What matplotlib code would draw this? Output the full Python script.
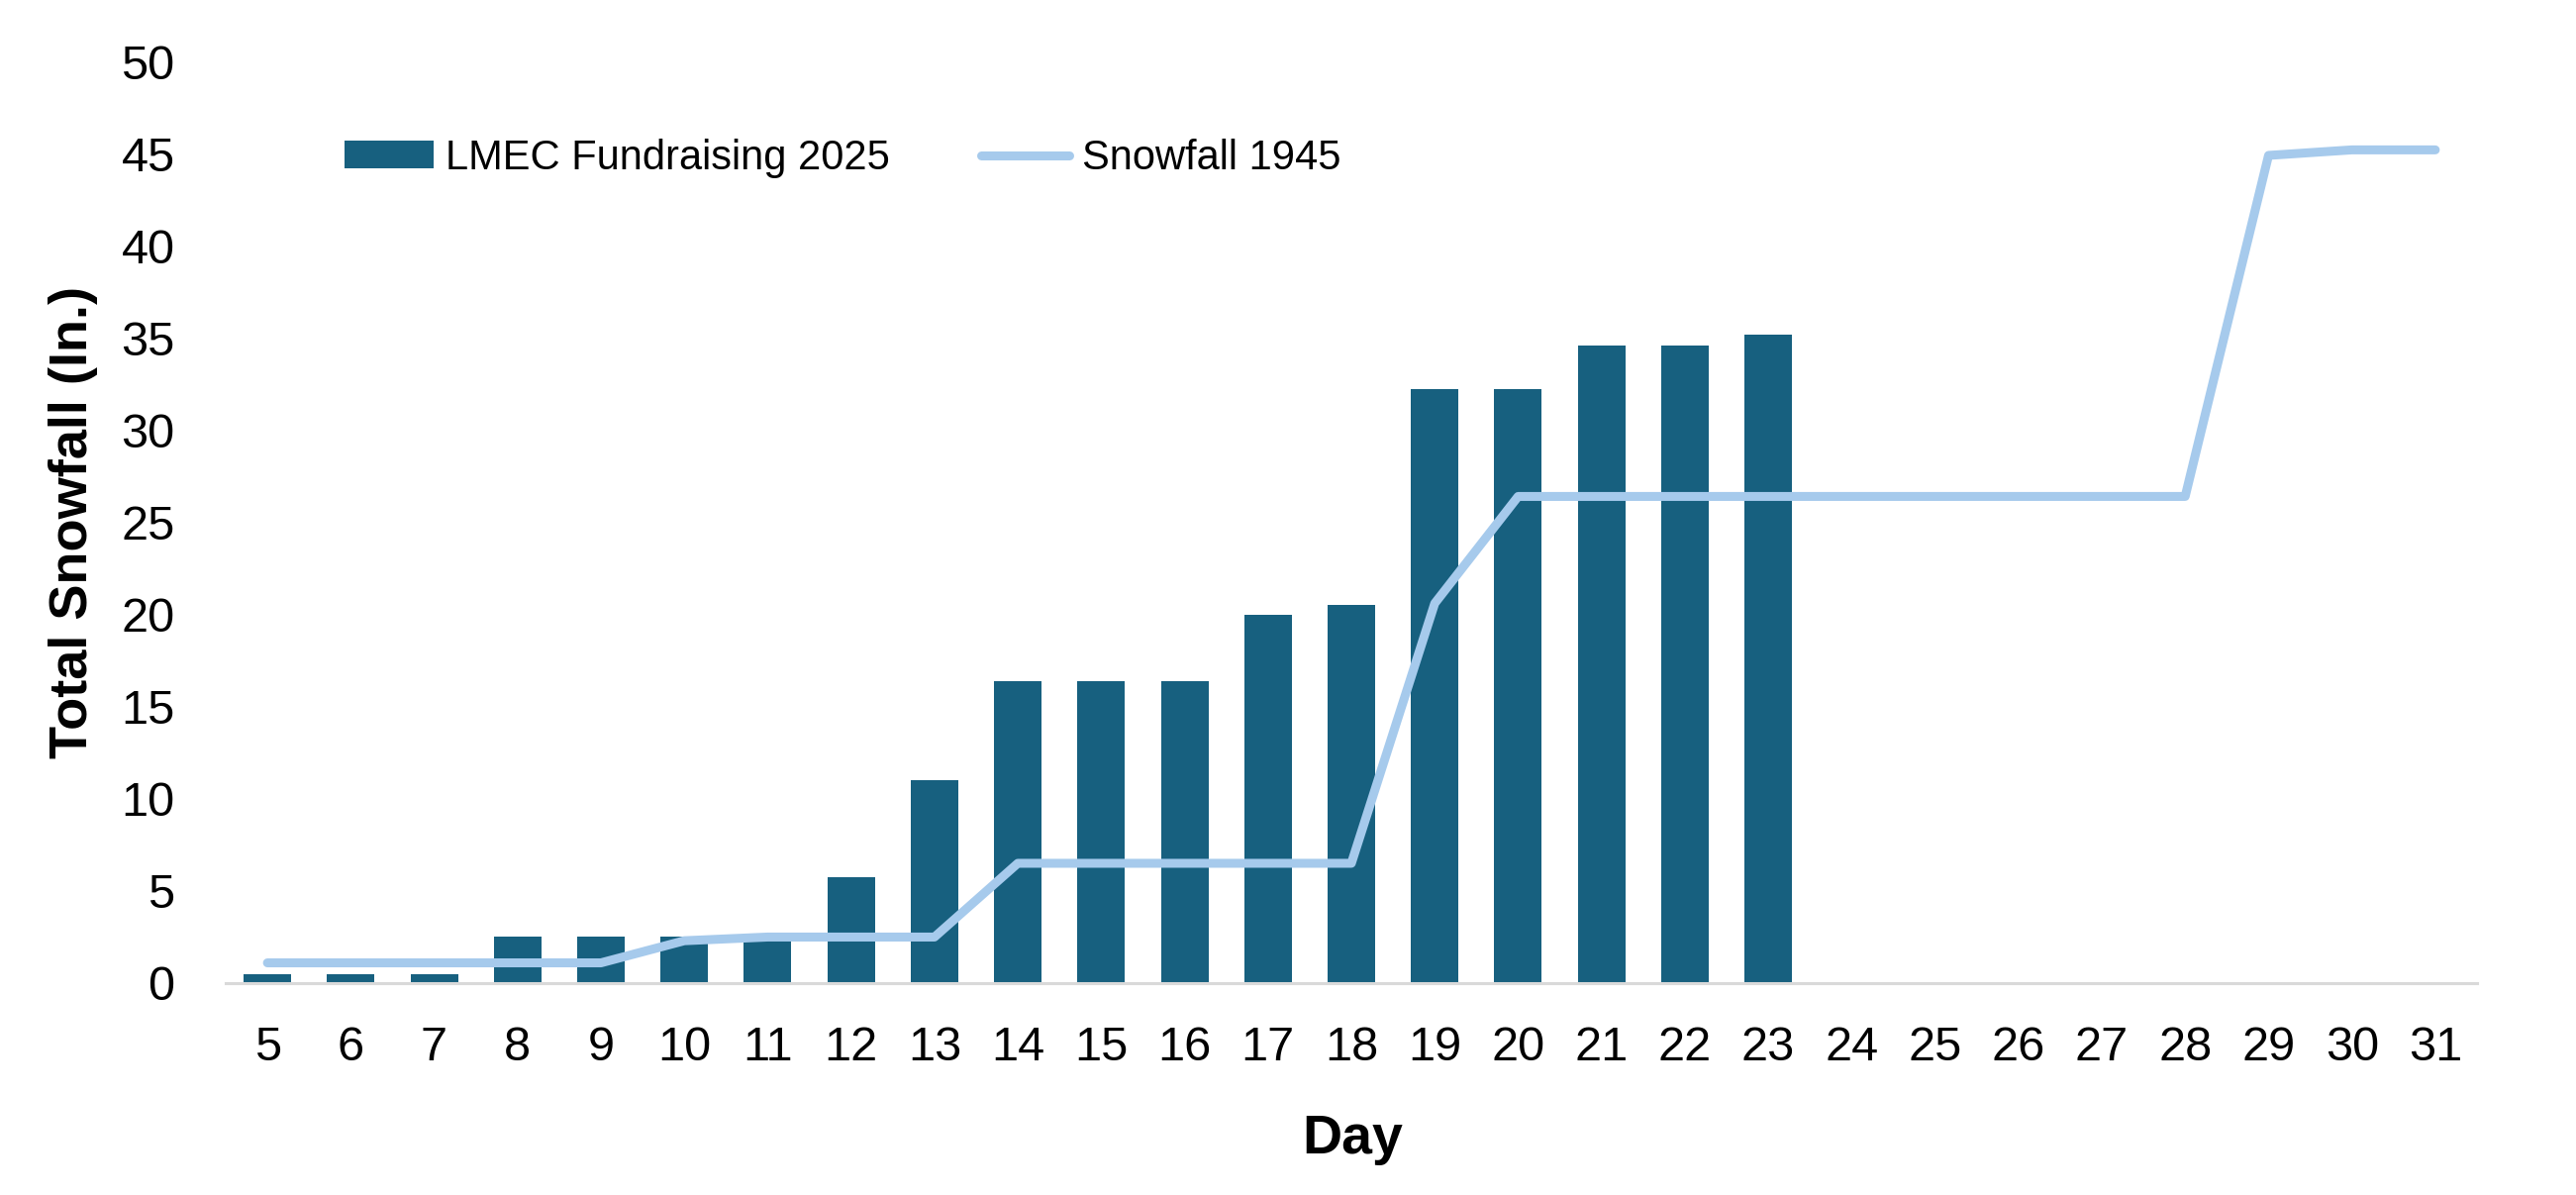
import numpy as np
import matplotlib
matplotlib.use("Agg")
import matplotlib.pyplot as plt

plt.rcParams['font.family'] = ['Liberation Sans', 'DejaVu Sans']

# data
days = list(range(5, 32))
fundraising = [0.5, 0.5, 0.5, 2.5, 2.5, 2.5, 2.5, 5.75, 11.0, 16.4, 16.4, 16.4,
               20.0, 20.5, 32.2, 32.2, 34.6, 34.6, 35.2]   # days 5-23
snow_1945 = [1.1, 1.1, 1.1, 1.1, 1.1,                      # 5-9
             2.3, 2.5, 2.5, 2.5,                           # 10-13
             6.5, 6.5, 6.5, 6.5, 6.5,                      # 14-18
             20.6,                                         # 19
             26.4, 26.4, 26.4, 26.4, 26.4, 26.4, 26.4, 26.4, 26.4,  # 20-28
             44.9, 45.2, 45.2]                             # 29-31

bar_color = '#17607F'
line_color = '#A6CAEC'

fig = plt.figure(figsize=(26.02, 12.07), dpi=100)
ax = fig.add_axes([228 / 2602, 1 - 993 / 1207, 2274 / 2602, (993 - 62) / 1207])

x = np.arange(len(days))
bars = ax.bar(x[:len(fundraising)], fundraising, width=0.57, color=bar_color,
              label='LMEC Fundraising 2025', zorder=2)
line, = ax.plot(x, snow_1945, color=line_color, lw=6.5, solid_capstyle='round',
                solid_joinstyle='round', label='Snowfall 1945', zorder=3)

ax.set_xlim(-0.5, len(days) - 0.5)
ax.set_ylim(0, 50)
ax.set_yticks(range(0, 51, 5))
ax.set_xticks(x)
ax.set_xticklabels([str(d) for d in days])
ax.tick_params(axis='both', length=0, labelsize=35)
ax.tick_params(axis='y', pad=37)
ax.tick_params(axis='x', pad=31)

for s in ['top', 'right', 'left']:
    ax.spines[s].set_visible(False)
ax.spines['bottom'].set_color('#D9D9D9')
ax.spines['bottom'].set_linewidth(2.2)

fig.text(74 / 2602, 1 - 527 / 1207, 'Total Snowfall (In.)', rotation=90,
         ha='center', va='center', fontsize=39, fontweight='bold')
fig.text(1366 / 2602, 1 - 1151 / 1207, 'Day', ha='center', va='center',
         fontsize=40, fontweight='bold')

leg = fig.legend([bars, line], ['LMEC Fundraising 2025', 'Snowfall 1945'],
                 loc='center left', bbox_to_anchor=(348 / 2602, 1 - 160 / 1207),
                 ncol=2, frameon=False, fontsize=30, borderpad=0, borderaxespad=0,
                 handlelength=2.15, handleheight=0.65, handletextpad=0.3,
                 columnspacing=2.2)

fig.savefig('out.png', dpi=100)
